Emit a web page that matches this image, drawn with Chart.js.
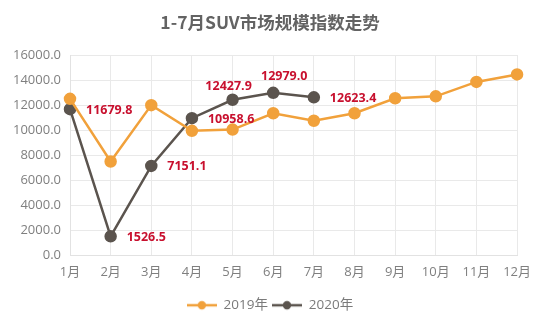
<!DOCTYPE html>
<html>
<head>
<meta charset="utf-8">
<script src="https://cdn.jsdelivr.net/npm/chart.js@4"></script>
<style>
  html, body { margin: 0; padding: 0; background: #fff; }
  #wrap { width: 540px; height: 324px; }
</style>
</head>
<body>
<div id="wrap"><canvas id="suvChart" width="540" height="324"></canvas></div>
<script>
const months = ['1月', '2月', '3月', '4月', '5月', '6月', '7月', '8月', '9月', '10月', '11月', '12月'];
const values2019 = [12500, 7500, 12000, 9950, 10050, 11350, 10750, 11350, 12550, 12700, 13850, 14450];
const values2020 = [11679.8, 1526.5, 7151.1, 10958.6, 12427.9, 12979.0, 12623.4];
const yTicks = [0, 2000, 4000, 6000, 8000, 10000, 12000, 14000, 16000];

const orange = '#F1A13B';
const darkGrey = '#5B544E';
const labelRed = '#C8102E';
const tickFont = "'Open Sans', 'Noto Sans CJK SC', sans-serif";

// where each 2020 value label sits relative to its point
const labelSide = ['right', 'right', 'right', 'right', 'above', 'above', 'right'];

function legendMarker(color) {
  const c = document.createElement('canvas');
  c.width = 30;
  c.height = 12;
  const ctx = c.getContext('2d');
  ctx.strokeStyle = color;
  ctx.lineWidth = 2.5;
  ctx.beginPath();
  ctx.moveTo(0, 6);
  ctx.lineTo(30, 6);
  ctx.stroke();
  ctx.fillStyle = color;
  ctx.beginPath();
  ctx.arc(15, 6, 4.2, 0, Math.PI * 2);
  ctx.fill();
  return c;
}
const markers = [legendMarker(orange), legendMarker(darkGrey)];

const valueLabels = {
  id: 'valueLabels',
  afterDatasetsDraw(chart) {
    const meta = chart.getDatasetMeta(1);
    const ctx = chart.ctx;
    ctx.save();
    ctx.font = "bold 12.5px 'Open Sans', sans-serif";
    ctx.fillStyle = labelRed;
    meta.data.forEach((pt, i) => {
      const text = values2020[i].toFixed(1);
      if (labelSide[i] === 'above') {
        ctx.textAlign = 'center';
        ctx.textBaseline = 'middle';
        const dx = i === 5 ? 11 : -4;
        const dy = i === 5 ? -16 : -13;
        ctx.fillText(text, pt.x + dx, pt.y + dy);
      } else {
        ctx.textAlign = 'left';
        ctx.textBaseline = 'middle';
        ctx.fillText(text, pt.x + 16, pt.y + 1);
      }
    });
    ctx.restore();
  }
};

new Chart(document.getElementById('suvChart'), {
  type: 'line',
  data: {
    labels: months,
    datasets: [
      {
        label: '2019年',
        data: values2019,
        borderColor: orange,
        backgroundColor: orange,
        pointBackgroundColor: orange,
        pointBorderColor: orange,
        borderWidth: 2.5,
        pointRadius: 5,
        tension: 0
      },
      {
        label: '2020年',
        data: values2020,
        borderColor: darkGrey,
        backgroundColor: darkGrey,
        pointBackgroundColor: darkGrey,
        pointBorderColor: darkGrey,
        borderWidth: 2.5,
        pointRadius: 5,
        tension: 0
      }
    ]
  },
  options: {
    responsive: false,
    animation: false,
    layout: { padding: { left: 0, right: 0, top: 0, bottom: 2 } },
    plugins: {
      title: {
        display: true,
        text: '1-7月SUV市场规模指数走势',
        color: '#636363',
        font: { family: "'Noto Sans CJK SC', sans-serif", size: 17.5, weight: 'bold', lineHeight: 1.2 },
        padding: { top: 12, bottom: 22 }
      },
      legend: {
        position: 'bottom',
        labels: {
          usePointStyle: true,
          pointStyleWidth: 30,
          color: '#7a7a7a',
          padding: 4,
          font: { family: tickFont, size: 13.5 },
          generateLabels(chart) {
            const items = Chart.defaults.plugins.legend.labels.generateLabels(chart);
            items.forEach((it, i) => { it.pointStyle = markers[i]; });
            return items;
          }
        }
      },
      tooltip: { enabled: false }
    },
    scales: {
      x: {
        grid: { color: '#e9e9e9', drawTicks: false },
        border: { color: '#e2e2e2' },
        ticks: { color: '#7f7f7f', padding: 9, font: { family: tickFont, size: 13 }, maxRotation: 0 },
        afterFit(scale) { scale.height = 39; }
      },
      y: {
        min: 0,
        max: 16000,
        afterBuildTicks(scale) { scale.ticks = yTicks.map(v => ({ value: v })); },
        grid: { color: '#e9e9e9', drawTicks: false },
        border: { color: '#e2e2e2' },
        ticks: {
          color: '#7f7f7f',
          padding: 9,
          font: { family: tickFont, size: 13 },
          callback: v => Number(v).toFixed(1)
        },
        afterFit(scale) { scale.width = 70; }
      },
      // empty right-hand spacer so the plot ends where the reference does
      spacer: {
        position: 'right',
        grid: { display: false },
        border: { display: false },
        ticks: { display: false },
        afterFit(scale) { scale.width = 21; }
      }
    }
  },
  plugins: [valueLabels]
});
</script>
</body>
</html>
